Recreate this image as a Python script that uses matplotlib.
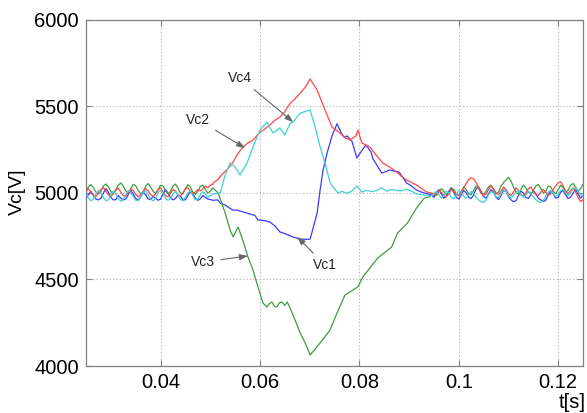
import numpy as np
import matplotlib
matplotlib.use("Agg")
import matplotlib.pyplot as plt

plt.rcParams['font.family'] = ['Liberation Sans', 'DejaVu Sans']

# ---- sampling ----
T_PRE0, T_POST0, DT = 0.025, 0.0945, 0.0005

# ---- pre-transient noise (t = 0.025 .. 0.0505) ----
vc1_pre = [4975, 4990, 5010, 4985, 4965, 4960, 4970, 5000, 5025, 5005,
           4975, 4960, 4962, 4985, 4970, 4960, 4965, 4990, 5015, 4995,
           4968, 4960, 4975, 5005, 4990, 4965, 4962, 4980, 4970, 4958,
           4965, 4995, 5020, 5000, 4972, 4960, 4968, 4990, 4980, 4962,
           4960, 4985, 5010, 4995, 4970, 4958, 4966, 4985, 4975, 4965,
           4962, 4958]
vc2_pre = [4990, 4970, 4955, 4965, 4995, 5015, 5000, 4975, 4955, 4960,
           4990, 5010, 4995, 4968, 4952, 4962, 4990, 5012, 5005, 4980,
           4958, 4955, 4978, 5005, 5012, 4990, 4965, 4955, 4970, 5000,
           5015, 4995, 4970, 4958, 4968, 4995, 5010, 4990, 4962, 4955,
           4975, 5002, 5010, 4985, 4960, 4965, 4990, 5008, 4995, 4975,
           4985, 4995]
vc3_pre = [5015, 5035, 5048, 5030, 5005, 4995, 5010, 5040, 5052, 5035,
           5008, 4998, 5020, 5045, 5058, 5040, 5012, 5000, 5025, 5050,
           5042, 5015, 4995, 5005, 5038, 5055, 5035, 5010, 4998, 5020,
           5045, 5040, 5012, 4995, 5008, 5040, 5052, 5028, 5000, 4995,
           5025, 5048, 5035, 5005, 4992, 5010, 5038, 5045, 5020, 5000,
           5010, 5030]
vc4_pre = [5010, 5025, 5005, 4985, 4980, 5000, 5020, 5030, 5010, 4990,
           4978, 4995, 5015, 5028, 5005, 4985, 4982, 5002, 5022, 5015,
           4992, 4978, 4988, 5010, 5025, 5012, 4990, 4980, 4995, 5018,
           5030, 5008, 4985, 4978, 4998, 5020, 5012, 4990, 4982, 5000,
           5025, 5030, 5010, 4995, 5005, 5020, 5012, 5025, 5040, 5030,
           5045, 5050]

# ---- transient ----
vc1_t = [0.0515, 0.0520, 0.0530, 0.0545, 0.0555, 0.0574, 0.0590, 0.0596, 0.0610,
         0.0620, 0.0630, 0.0640, 0.0655, 0.0666, 0.0681, 0.0695, 0.0701, 0.0715,
         0.0721, 0.0727, 0.0735, 0.0745, 0.0755, 0.0763, 0.0770, 0.0775, 0.0785,
         0.0795, 0.0803, 0.0813, 0.0823, 0.0827, 0.0845, 0.0855, 0.0860, 0.0880,
         0.0895, 0.0905, 0.0915, 0.0930]
vc1_v = [4960, 4942, 4930, 4902, 4900, 4884, 4870, 4844, 4840,
         4832, 4810, 4775, 4760, 4746, 4734, 4732, 4734, 4884,
         5017, 5133, 5230, 5330, 5400, 5350, 5320, 5330, 5300,
         5202, 5237, 5277, 5240, 5200, 5115, 5125, 5133, 5121,
         5058, 5040, 5017, 5000]

vc2_t = [0.0520, 0.0530, 0.0540, 0.0550, 0.0560, 0.0574, 0.0586, 0.0600, 0.0614,
         0.0626, 0.0640, 0.0650, 0.0661, 0.0667, 0.0681, 0.0701, 0.0711, 0.0721,
         0.0731, 0.0741, 0.0747, 0.0757, 0.0765, 0.0775, 0.0785, 0.0795, 0.0805,
         0.0815, 0.0825, 0.0835, 0.0845, 0.0855, 0.0865, 0.0875, 0.0885, 0.0895,
         0.0905, 0.0915, 0.0925, 0.0935]
vc2_v = [5000, 5104, 5173, 5150, 5104, 5173, 5266, 5364, 5410,
         5347, 5376, 5335, 5404, 5410, 5462, 5480, 5381, 5266,
         5173, 5060, 5035, 5000, 5010, 4998, 5012, 5040, 5005,
         5015, 5008, 5015, 5030, 5010, 5020, 5015, 5012, 5022,
         5010, 4995, 4990, 4985]

vc3_t = [0.0516, 0.0530, 0.0540, 0.0546, 0.0556, 0.0564, 0.0576, 0.0586, 0.0596,
         0.0606, 0.0614, 0.0619, 0.0624, 0.0629, 0.0634, 0.0639, 0.0644, 0.0650,
         0.0655, 0.0665, 0.0681, 0.0691, 0.0701, 0.0721, 0.0741, 0.0755, 0.0771,
         0.0797, 0.0807, 0.0837, 0.0865, 0.0877, 0.0897, 0.0915, 0.0931, 0.0941]
vc3_v = [5000, 4884, 4786, 4746, 4803, 4740, 4630, 4555, 4457,
         4364, 4341, 4360, 4370, 4345, 4341, 4365, 4370, 4350,
         4370, 4306, 4191, 4133, 4064, 4133, 4208, 4306, 4410,
         4457, 4515, 4624, 4688, 4769, 4827, 4913, 4971, 4977]

vc4_t = [0.0506, 0.0516, 0.0526, 0.0536, 0.0546, 0.0556, 0.0566, 0.0576, 0.0586,
         0.0600, 0.0610, 0.0620, 0.0630, 0.0640, 0.0650, 0.0661, 0.0671, 0.0681,
         0.0691, 0.0701, 0.0715, 0.0727, 0.0745, 0.0761, 0.0771, 0.0781, 0.0793,
         0.0797, 0.0805, 0.0821, 0.0835, 0.0847, 0.0861, 0.0875, 0.0885, 0.0895,
         0.0915, 0.0935]
vc4_v = [5058, 5080, 5115, 5140, 5180, 5230, 5266, 5290, 5306,
         5352, 5370, 5393, 5420, 5439, 5470, 5520, 5545, 5578,
         5610, 5659, 5595, 5508, 5381, 5347, 5320, 5306, 5330,
         5364, 5289, 5266, 5215, 5173, 5150, 5121, 5095, 5075,
         5046, 5006]

# ---- post-transient noise (t = 0.0945 .. 0.125) ----
vc1_post = [4990, 4975, 5000, 5020, 4995, 4970, 4980, 5010, 5030, 5005,
            4975, 4965, 4990, 5015, 5000, 4975, 4968, 4990, 5025, 5035,
            5010, 4980, 4970, 4995, 5020, 5005, 4975, 4962, 4985, 5015,
            5010, 4980, 4960, 4950, 4955, 4985, 5010, 5000, 4975, 4968,
            4990, 5015, 4995, 4970, 4960, 4950, 4958, 4990, 5010, 4995,
            4970, 4975, 5005, 5015, 4990, 4968, 4975, 5000, 5020, 4995,
            4970, 4985]
vc2_post = [4985, 4995, 5010, 4990, 4970, 4985, 5010, 5000, 4975, 4965,
            4985, 5015, 5005, 4980, 4970, 4990, 5010, 4995, 4975, 4960,
            4950, 4945, 4960, 4990, 5010, 5000, 4980, 4972, 4995, 5020,
            5010, 4985, 4970, 4985, 5005, 5015, 4995, 4975, 4985, 5010,
            5000, 4975, 4962, 4950, 4945, 4955, 4980, 5005, 5015, 4995,
            4980, 4990, 5015, 5020, 5000, 4985, 5000, 5025, 5030, 5010,
            4990, 4985]
vc3_post = [4990, 5000, 4985, 5005, 5025, 5010, 4990, 5000, 5030, 5020,
            4995, 4985, 5010, 5035, 5020, 4995, 4990, 5015, 5040, 5025,
            5000, 4990, 5010, 5035, 5045, 5020, 4995, 5005, 5040, 5060,
            5075, 5090, 5070, 5035, 5005, 4995, 5020, 5045, 5030, 5005,
            4995, 5015, 5040, 5050, 5025, 5000, 5010, 5040, 5035, 5010,
            4995, 5020, 5045, 5030, 5005, 5015, 5045, 5055, 5035, 5010,
            5025, 5050]
vc4_post = [5000, 4985, 4995, 5015, 5005, 4985, 4978, 4995, 5020, 5010,
            4990, 4985, 5005, 5030, 5055, 5078, 5088, 5080, 5060, 5030,
            5000, 4985, 4995, 5020, 5040, 5025, 5000, 4990, 5010, 5035,
            5020, 4995, 4985, 5005, 5030, 5015, 4990, 4982, 5000, 5025,
            5035, 5010, 4990, 4985, 5005, 5020, 5005, 4985, 4995, 5020,
            5040, 5060, 5065, 5040, 5010, 4995, 5015, 5030, 5005, 4975,
            4950, 4960]

x_ticks = [0.04, 0.06, 0.08, 0.1, 0.12]
x_ticklabels = ['0.04', '0.06', '0.08', '0.1', '0.12']
y_ticks = [4000, 4500, 5000, 5500, 6000]
y_ticklabels = ['4000', '4500', '5000', '5500', '6000']

labels = ['Vc1', 'Vc2', 'Vc3', 'Vc4']
label_xy = [(0.0675, 4746), (0.0570, 5260), (0.0576, 4636), (0.0667, 5410)]
label_text_xy = [(0.0731, 4584), (0.0476, 5422), (0.0486, 4601), (0.0560, 5665)]


def build(pre, t_tr, v_tr, post):
    t_pre = T_PRE0 + DT * np.arange(len(pre))
    t_post = T_POST0 + DT * np.arange(len(post))
    t = np.concatenate([t_pre, np.asarray(t_tr), t_post])
    v = np.concatenate([np.asarray(pre, float), np.asarray(v_tr, float), np.asarray(post, float)])
    return t, v


series = [
    (build(vc1_pre, vc1_t, vc1_v, vc1_post), '#3b3bff'),
    (build(vc3_pre, vc3_t, vc3_v, vc3_post), '#3c9e3c'),
    (build(vc4_pre, vc4_t, vc4_v, vc4_post), '#ff4747'),
    (build(vc2_pre, vc2_t, vc2_v, vc2_post), '#3fd2d2'),
]

fig = plt.figure(figsize=(5.87, 4.13), dpi=100)
ax = fig.add_axes([0.1465, 0.1138, 0.8467, 0.8378])

for (t, v), c in series:
    ax.plot(t, v, color=c, lw=0.9, zorder=3)

ax.set_xlim(0.025, 0.125)
ax.set_ylim(4000, 6000)
ax.set_xticks(x_ticks)
ax.set_xticklabels(x_ticklabels)
ax.set_yticks(y_ticks)
ax.set_yticklabels(y_ticklabels)
ax.tick_params(direction='in', length=4, color='#808080', labelsize=14.5,
               top=True, right=True, pad=5)
ax.grid(True, linestyle=(0, (1, 2)), color='#b0b0b0', lw=0.8)
for s in ax.spines.values():
    s.set_color('#808080')
    s.set_linewidth(0.9)

for lab, xy, txy in zip(labels, label_xy, label_text_xy):
    ax.annotate(lab, xy=xy, xytext=txy, ha='center', va='center', fontsize=10,
                color='#222222', zorder=5,
                arrowprops=dict(arrowstyle='-|>,head_length=0.5,head_width=0.18',
                                color='#666666', lw=0.8, shrinkA=2, shrinkB=0))

fig.text(0.030, 0.535, 'Vc[V]', rotation=90, ha='center', va='center', fontsize=14)
fig.text(0.998, 0.025, 't[s]', ha='right', va='center', fontsize=14.5)

fig.savefig('out.png', dpi=100)
